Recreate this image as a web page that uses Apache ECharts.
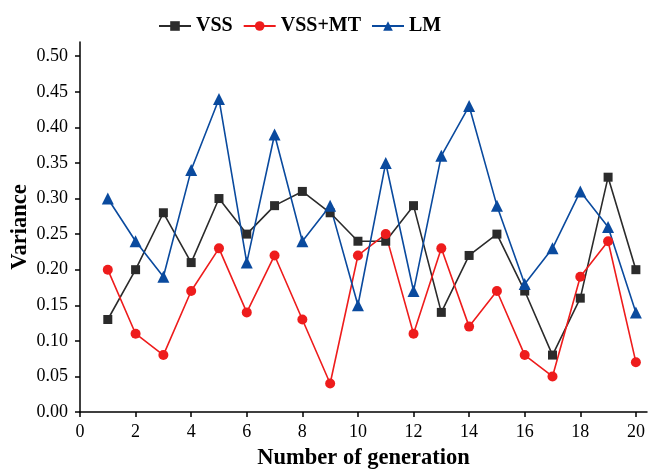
<!DOCTYPE html>
<html><head><meta charset="utf-8">
<script src="https://cdn.jsdelivr.net/npm/echarts@6/dist/echarts.min.js"></script>
<style>html,body{margin:0;padding:0;background:#fff}#c{width:648px;height:469px}</style>
</head><body><div id="c"></div>
<script>
const generations = [1,2,3,4,5,6,7,8,9,10,11,12,13,14,15,16,17,18,19,20];
const vss   = [0.13,0.20,0.28,0.21,0.30,0.25,0.29,0.31,0.28,0.24,0.24,0.29,0.14,0.22,0.25,0.17,0.08,0.16,0.33,0.20];
const vssmt = [0.20,0.11,0.08,0.17,0.23,0.14,0.22,0.13,0.04,0.22,0.25,0.11,0.23,0.12,0.17,0.08,0.05,0.19,0.24,0.07];
const lm    = [0.30,0.24,0.19,0.34,0.44,0.21,0.39,0.24,0.29,0.15,0.35,0.17,0.36,0.43,0.29,0.18,0.23,0.31,0.26,0.14];
const xTicks = [0,2,4,6,8,10,12,14,16,18,20];
const yTicks = [0,0.05,0.10,0.15,0.20,0.25,0.30,0.35,0.40,0.45,0.50];

const font = 'Liberation Serif';
const pair = arr => generations.map((g,i)=>[g,arr[i]]);
const chart = echarts.init(document.getElementById('c'));
chart.setOption({
  animation:false,
  textStyle:{fontFamily:font},
  legend:{
    top:11, left:153, itemGap:10, itemWidth:32, itemHeight:12,
    textStyle:{fontFamily:font,fontWeight:'bold',fontSize:20,color:'#000'},
    data:['VSS','VSS+MT','LM']
  },
  grid:{left:80,right:1,top:42,bottom:57,containLabel:false,outerBoundsMode:'none'},
  xAxis:{
    type:'value',min:0,max:20.4,
    name:'Number of generation',nameLocation:'middle',nameGap:35,
    nameTextStyle:{fontFamily:font,fontWeight:'bold',fontSize:22.5,color:'#000'},
    axisLine:{show:true,onZero:false,lineStyle:{color:'#000',width:1.5}},
    axisTick:{show:true,inside:false,length:5,lineStyle:{color:'#000',width:1.5},customValues:xTicks},
    axisLabel:{fontFamily:font,fontSize:18,color:'#000',margin:11,customValues:xTicks},
    splitLine:{show:false}
  },
  yAxis:{
    type:'value',min:0,max:0.52,
    name:'Variance',nameLocation:'middle',nameGap:48,nameRotate:90,nameMoveOverlap:false,
    nameTextStyle:{fontFamily:font,fontWeight:'bold',fontSize:22.5,color:'#000'},
    axisLine:{show:true,lineStyle:{color:'#000',width:1.5}},
    axisTick:{show:true,inside:false,length:5,lineStyle:{color:'#000',width:1.5},customValues:yTicks},
    axisLabel:{fontFamily:font,fontSize:18,color:'#000',margin:12,customValues:yTicks,formatter:v=>v.toFixed(2)},
    splitLine:{show:false}
  },
  series:[
    {name:'VSS',type:'line',data:pair(vss),symbol:'rect',symbolSize:9,
     lineStyle:{color:'#2b2b2b',width:1.6},itemStyle:{color:'#2b2b2b'}},
    {name:'VSS+MT',type:'line',data:pair(vssmt),symbol:'circle',symbolSize:10,
     lineStyle:{color:'#ee1c1c',width:1.6},itemStyle:{color:'#ee1c1c'}},
    {name:'LM',type:'line',data:pair(lm),symbol:'triangle',symbolSize:12,
     lineStyle:{color:'#0a4a9e',width:1.6},itemStyle:{color:'#0a4a9e'}}
  ]
});
</script></body></html>
